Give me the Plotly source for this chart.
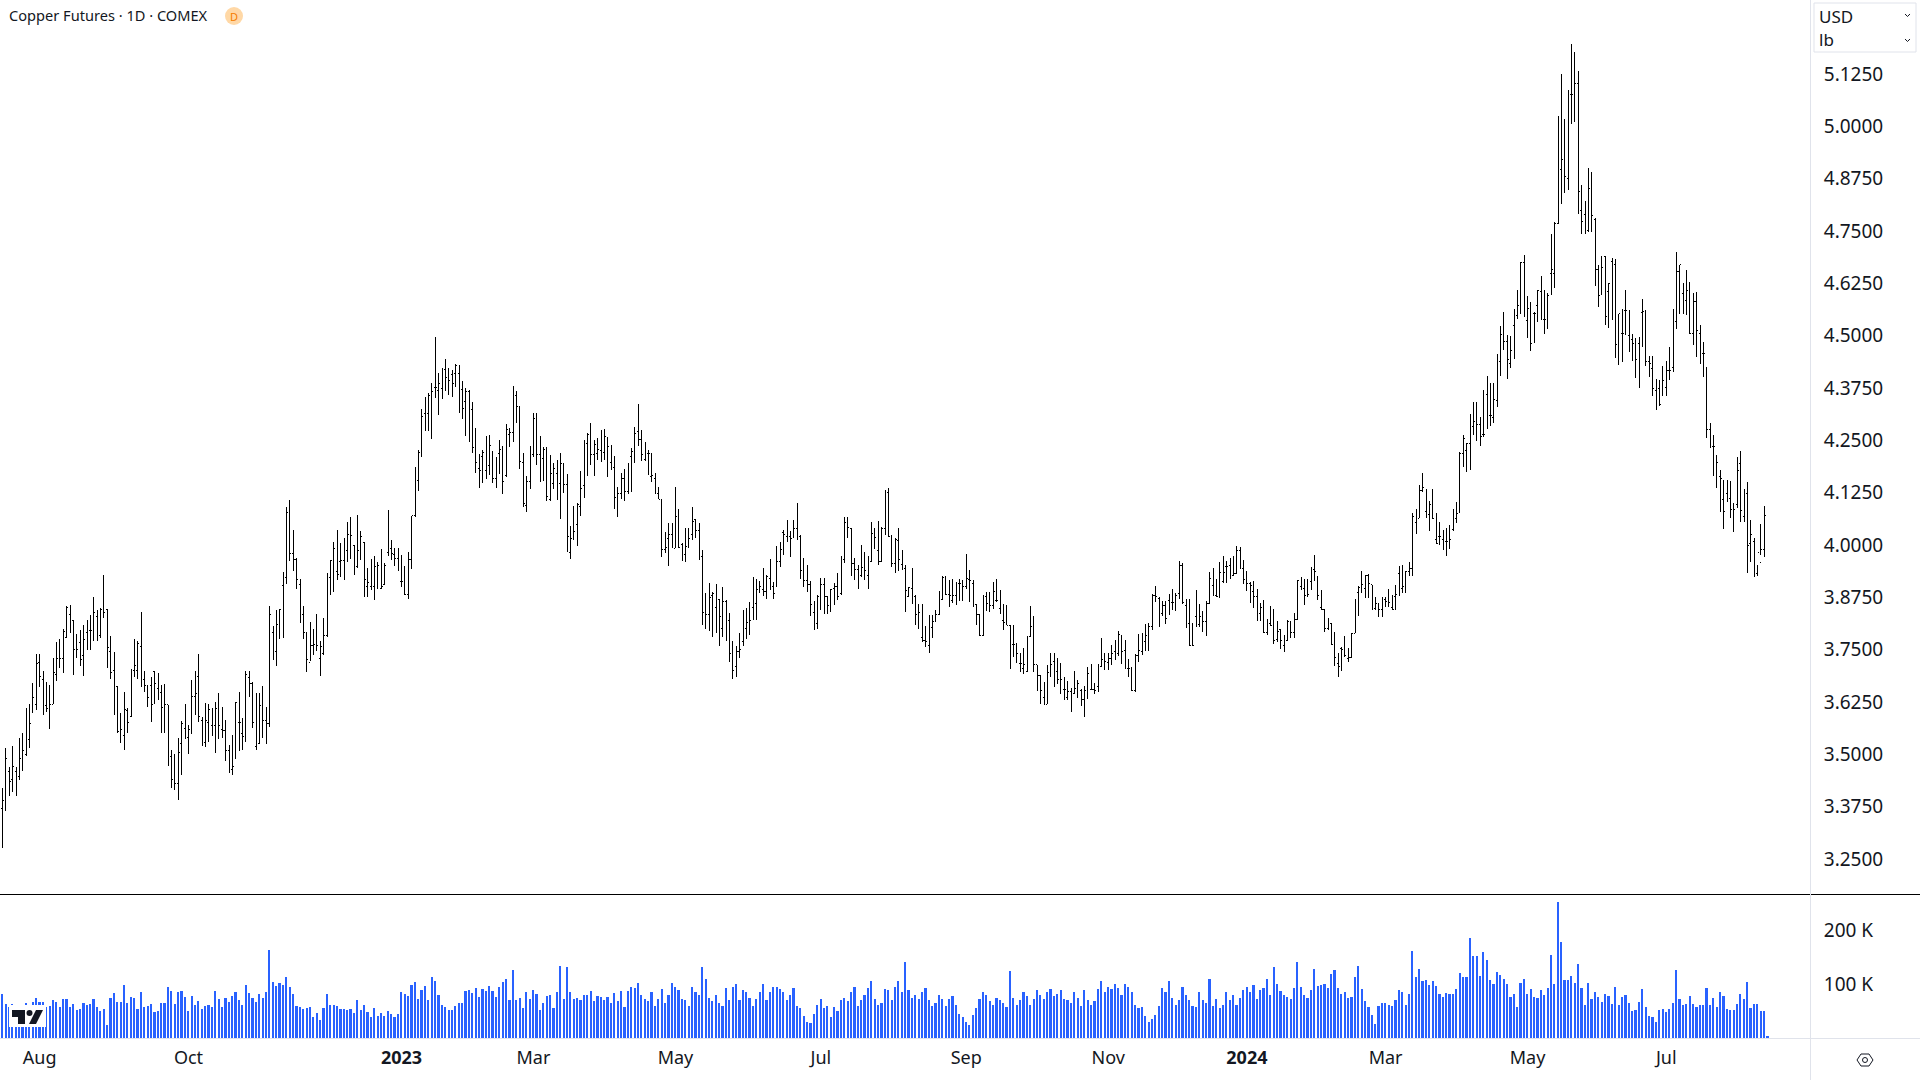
import plotly.graph_objects as go

W = 1920
H = 1080

# OHLC values (USD/lb), one row per 10 bars
highs = [
    3.42,3.515,3.47,3.52,3.47,3.54,3.55,3.61,3.62,3.67,
    3.74,3.74,3.70,3.674,3.666,3.73,3.768,3.776,3.80,3.855,
    3.856,3.82,3.787,3.797,3.81,3.82,3.833,3.875,3.845,3.85,
    3.928,3.847,3.783,3.745,3.664,3.60,3.648,3.61,3.704,3.776,
    3.77,3.84,3.70,3.665,3.686,3.70,3.694,3.666,3.668,3.618,
    3.51,3.50,3.538,3.58,3.62,3.57,3.678,3.70,3.74,3.59,
    3.622,3.62,3.61,3.624,3.646,3.614,3.582,3.523,3.546,3.626,
    3.65,3.586,3.70,3.70,3.674,3.646,3.646,3.664,3.614,3.854,
    3.807,3.845,3.847,3.936,4.09,4.107,4.036,3.968,3.918,3.855,
    3.79,3.817,3.80,3.835,3.77,3.825,3.934,3.964,4.008,4.036,
    4.004,4.016,4.054,4.066,4.0,4.071,4.034,4.008,3.946,3.966,
    3.973,3.96,3.99,3.956,4.083,4.013,3.992,3.992,3.976,3.95,
    3.984,4.07,4.187,4.227,4.326,4.353,4.364,4.386,4.496,4.41,
    4.422,4.444,4.424,4.418,4.432,4.43,4.392,4.374,4.37,4.341,
    4.279,4.217,4.227,4.26,4.263,4.225,4.211,4.252,4.236,4.289,
    4.279,4.38,4.368,4.332,4.219,4.165,4.237,4.315,4.315,4.26,
    4.235,4.235,4.215,4.195,4.203,4.22,4.197,4.17,4.045,4.093,
    4.1,4.177,4.25,4.267,4.292,4.251,4.255,4.275,4.277,4.259,
    4.239,4.213,4.138,4.171,4.182,4.195,4.231,4.283,4.337,4.275,
    4.247,4.227,4.219,4.171,4.139,4.111,4.032,4.052,4.053,4.138,
    4.085,4.004,4.04,4.04,4.092,4.062,4.052,3.988,3.885,3.91,
    3.888,3.906,3.87,3.90,3.868,3.837,3.77,3.76,3.79,3.845,3.85,
    3.865,3.924,3.918,3.914,3.946,3.928,3.966,3.912,3.998,4.008,
    4.037,4.06,4.034,4.06,4.1,4.024,3.968,3.952,3.914,3.866,
    3.88,3.922,3.922,3.876,3.896,3.91,3.934,3.973,4.066,4.066,
    4.04,3.968,3.952,4.0,3.984,3.973,4.054,4.04,4.057,4.044,
    4.131,4.137,4.024,4.016,4.04,3.989,3.952,3.899,3.944,3.88,
    3.86,3.86,3.806,3.833,3.833,3.844,3.89,3.926,3.926,3.916,
    3.918,3.912,3.918,3.916,3.978,3.94,3.916,3.86,3.833,3.88,
    3.888,3.888,3.911,3.92,3.892,3.859,3.856,3.809,3.809,3.765,
    3.741,3.753,3.782,3.854,3.83,3.713,3.688,3.672,3.713,3.741,
    3.741,3.731,3.719,3.684,3.675,3.657,3.699,3.677,3.657,3.663,
    3.708,3.717,3.67,3.717,3.777,3.741,3.741,3.761,3.773,3.794,
    3.785,3.773,3.729,3.709,3.739,3.787,3.789,3.811,3.813,3.884,
    3.902,3.876,3.867,3.867,3.884,3.894,3.886,3.962,3.956,3.87,
    3.87,3.813,3.892,3.859,3.842,3.867,3.936,3.944,3.92,3.96,
    3.974,3.963,3.968,3.974,3.998,3.996,3.964,3.939,3.912,3.914,
    3.894,3.861,3.869,3.823,3.854,3.847,3.818,3.799,3.785,3.821,
    3.819,3.837,3.917,3.924,3.919,3.918,3.948,3.976,3.924,3.893,
    3.846,3.825,3.813,3.792,3.741,3.756,3.783,3.753,3.789,3.871,
    3.902,3.938,3.928,3.931,3.905,3.877,3.861,3.877,3.877,3.894,
    3.881,3.905,3.95,3.952,3.938,3.959,4.076,4.085,4.143,4.171,
    4.135,4.104,4.135,4.076,4.056,4.036,4.04,4.048,4.085,4.102,
    4.223,4.263,4.243,4.312,4.342,4.342,4.307,4.37,4.404,4.386,
    4.388,4.456,4.522,4.557,4.502,4.5,4.563,4.608,4.677,4.692,
    4.595,4.581,4.557,4.61,4.642,4.609,4.601,4.743,4.772,5.025,
    5.125,5.017,5.087,5.197,5.177,5.132,4.86,4.822,4.9,4.89,
    4.78,4.67,4.691,4.691,4.625,4.685,4.682,4.553,4.563,4.609,
    4.561,4.505,4.494,4.498,4.587,4.561,4.452,4.452,4.397,4.394,
    4.428,4.44,4.472,4.564,4.699,4.67,4.625,4.657,4.629,
    4.601,4.605,4.525,4.486,4.426,4.291,4.263,4.214,4.18,4.156,
    4.156,4.152,4.1,4.211,4.225,4.134,4.15,4.06,4.016,3.953,
    4.05,4.093,
]
lows = [
    3.276,3.364,3.40,3.41,3.40,3.44,3.46,3.495,3.515,3.60,
    3.606,3.66,3.594,3.602,3.56,3.62,3.676,3.706,3.695,3.78,
    3.79,3.69,3.73,3.712,3.688,3.75,3.75,3.77,3.77,3.777,
    3.825,3.707,3.68,3.593,3.55,3.528,3.51,3.55,3.59,3.684,
    3.68,3.66,3.648,3.614,3.577,3.62,3.63,3.55,3.55,3.473,
    3.42,3.415,3.39,3.45,3.536,3.50,3.55,3.593,3.578,3.52,
    3.518,3.53,3.544,3.503,3.536,3.54,3.485,3.455,3.45,3.49,
    3.507,3.51,3.53,3.638,3.564,3.51,3.525,3.54,3.525,3.565,
    3.725,3.71,3.775,3.777,3.908,3.962,3.938,3.896,3.813,3.775,
    3.696,3.722,3.737,3.748,3.688,3.737,3.78,3.88,3.888,3.916,
    3.924,3.916,3.96,3.966,3.928,3.944,3.964,3.876,3.876,3.892,
    3.868,3.896,3.894,3.904,3.973,3.964,3.95,3.938,3.90,3.88,
    3.87,3.942,4.067,4.13,4.21,4.273,4.273,4.254,4.35,4.31,
    4.349,4.369,4.358,4.354,4.378,4.316,4.30,4.261,4.247,4.221,
    4.173,4.137,4.147,4.158,4.167,4.147,4.137,4.169,4.123,4.162,
    4.235,4.245,4.292,4.182,4.09,4.08,4.135,4.211,4.19,4.151,
    4.153,4.105,4.104,4.135,4.107,4.062,4.125,3.983,3.966,4.012,
    3.998,4.07,4.113,4.166,4.191,4.166,4.203,4.199,4.203,4.163,
    4.179,4.086,4.068,4.111,4.106,4.123,4.127,4.197,4.237,4.2,
    4.2,4.167,4.151,4.122,4.109,3.972,3.98,3.951,3.992,3.992,
    3.992,3.963,3.96,3.992,4.012,4.016,3.964,3.81,3.80,3.795,
    3.78,3.79,3.76,3.78,3.77,3.72,3.68,3.685,3.73,3.76,3.775,
    3.785,3.82,3.82,3.885,3.878,3.87,3.893,3.87,3.90,3.947,
    3.976,4.008,3.972,4.016,4.012,3.92,3.899,3.888,3.83,3.797,
    3.80,3.845,3.835,3.835,3.84,3.856,3.868,3.88,3.956,4.018,
    3.926,3.916,3.896,3.924,3.916,3.896,3.96,3.99,3.952,3.96,
    4.024,4.02,3.948,3.934,3.938,3.94,3.84,3.878,3.86,3.809,
    3.799,3.769,3.757,3.741,3.778,3.817,3.833,3.872,3.88,3.852,
    3.862,3.856,3.867,3.867,3.896,3.864,3.852,3.81,3.783,3.783,
    3.843,3.84,3.848,3.864,3.835,3.798,3.809,3.704,3.733,3.719,
    3.697,3.693,3.697,3.782,3.697,3.652,3.62,3.62,3.621,3.684,
    3.66,3.668,3.645,3.63,3.63,3.602,3.645,3.635,3.615,3.59,
    3.633,3.653,3.645,3.649,3.709,3.701,3.701,3.713,3.725,3.735,
    3.717,3.703,3.684,3.652,3.649,3.72,3.737,3.747,3.747,3.797,
    3.863,3.805,3.83,3.811,3.833,3.845,3.843,3.872,3.86,3.801,
    3.761,3.759,3.805,3.805,3.793,3.782,3.859,3.878,3.875,3.873,
    3.909,3.91,3.92,3.926,3.93,3.942,3.907,3.891,3.862,3.849,
    3.819,3.819,3.789,3.784,3.807,3.764,3.769,3.752,3.745,3.772,
    3.777,3.779,3.823,3.893,3.857,3.877,3.893,3.915,3.869,3.845,
    3.793,3.797,3.763,3.71,3.686,3.698,3.732,3.72,3.732,3.789,
    3.831,3.885,3.874,3.874,3.846,3.846,3.829,3.827,3.853,3.851,
    3.845,3.845,3.878,3.886,3.886,3.926,3.926,4.026,4.064,4.127,
    4.064,4.034,4.062,4.002,4.0,3.988,3.974,3.99,4.034,4.052,
    4.076,4.187,4.175,4.179,4.263,4.249,4.237,4.257,4.277,4.284,
    4.292,4.33,4.404,4.467,4.396,4.424,4.444,4.541,4.553,4.545,
    4.494,4.464,4.482,4.533,4.537,4.503,4.517,4.597,4.615,4.767,
    4.814,4.84,4.848,5.005,5.011,4.79,4.742,4.744,4.748,4.748,
    4.619,4.569,4.597,4.525,4.519,4.537,4.446,4.43,4.438,4.502,
    4.46,4.44,4.398,4.375,4.472,4.428,4.402,4.355,4.323,4.331,
    4.355,4.355,4.393,4.414,4.515,4.553,4.553,4.549,4.505,
    4.478,4.45,4.432,4.402,4.255,4.231,4.164,4.137,4.078,4.038,
    4.102,4.064,4.032,4.088,4.056,4.056,3.933,3.96,3.923,3.925,
    3.976,3.972,
]
opens = [
    3.37,3.38,3.46,3.44,3.46,3.447,3.467,3.50,3.536,3.618,
    3.618,3.72,3.678,3.616,3.62,3.62,3.69,3.73,3.73,3.78,
    3.835,3.82,3.76,3.767,3.735,3.79,3.797,3.797,3.83,3.785,
    3.843,3.845,3.745,3.70,3.662,3.55,3.546,3.605,3.59,3.70,
    3.70,3.757,3.678,3.664,3.664,3.698,3.658,3.648,3.586,3.618,
    3.496,3.44,3.43,3.527,3.562,3.54,3.55,3.638,3.687,3.58,
    3.528,3.576,3.57,3.57,3.586,3.56,3.558,3.51,3.465,3.54,
    3.577,3.55,3.55,3.683,3.67,3.518,3.527,3.616,3.582,3.573,
    3.79,3.745,3.823,3.904,3.922,4.06,3.98,3.966,3.906,3.835,
    3.79,3.72,3.76,3.762,3.73,3.74,3.785,3.922,3.94,3.936,
    3.96,3.964,3.986,4.024,4.0,3.948,3.986,4.005,3.90,3.90,
    3.90,3.934,3.896,3.906,3.981,3.992,3.978,3.967,3.912,3.912,
    3.883,3.966,4.07,4.155,4.22,4.315,4.315,4.353,4.376,4.37,
    4.374,4.42,4.40,4.408,4.41,4.41,4.372,4.344,4.366,4.324,
    4.233,4.183,4.211,4.178,4.191,4.215,4.159,4.219,4.215,4.166,
    4.263,4.268,4.356,4.322,4.197,4.095,4.151,4.217,4.302,4.217,
    4.207,4.229,4.109,4.147,4.17,4.147,4.145,4.145,3.983,4.016,
    4.05,4.093,4.143,4.243,4.217,4.217,4.219,4.225,4.221,4.233,
    4.197,4.186,4.113,4.123,4.158,4.127,4.211,4.223,4.27,4.252,
    4.205,4.218,4.163,4.159,4.123,4.10,3.99,4.016,4.024,3.992,
    4.068,4.002,3.978,3.996,4.026,4.06,4.034,3.972,3.84,3.835,
    3.88,3.85,3.87,3.80,3.865,3.82,3.74,3.71,3.745,3.77,3.80,
    3.80,3.85,3.86,3.90,3.895,3.89,3.92,3.90,3.96,3.96,
    4.03,4.02,4.02,4.05,4.04,4.02,3.94,3.915,3.906,3.84,
    3.813,3.876,3.906,3.876,3.855,3.896,3.90,3.884,3.966,4.055,
    4.04,3.956,3.942,3.928,3.946,3.928,3.96,4.018,3.988,3.96,
    4.04,4.125,4.021,3.956,4.012,3.954,3.944,3.878,3.896,3.878,
    3.839,3.78,3.771,3.761,3.802,3.833,3.833,3.871,3.922,3.882,
    3.867,3.88,3.907,3.88,3.90,3.918,3.907,3.859,3.833,3.783,
    3.876,3.859,3.856,3.867,3.848,3.82,3.843,3.809,3.763,3.741,
    3.717,3.705,3.697,3.781,3.822,3.715,3.688,3.636,3.62,3.696,
    3.723,3.699,3.679,3.655,3.637,3.65,3.645,3.653,3.653,3.63,
    3.653,3.655,3.655,3.663,3.711,3.721,3.719,3.729,3.745,3.741,
    3.781,3.747,3.705,3.701,3.653,3.737,3.745,3.769,3.763,3.805,
    3.88,3.872,3.836,3.856,3.867,3.862,3.856,3.884,3.95,3.856,
    3.813,3.761,3.829,3.811,3.811,3.817,3.86,3.904,3.88,3.928,
    3.913,3.948,3.952,3.928,3.931,3.988,3.944,3.926,3.907,3.889,
    3.877,3.837,3.837,3.791,3.813,3.821,3.775,3.799,3.759,3.772,
    3.79,3.79,3.823,3.902,3.897,3.88,3.912,3.942,3.924,3.85,
    3.847,3.801,3.813,3.763,3.717,3.753,3.737,3.729,3.732,3.789,
    3.886,3.899,3.897,3.928,3.905,3.849,3.846,3.845,3.869,3.865,
    3.851,3.878,3.932,3.897,3.934,3.936,3.944,4.053,4.064,4.13,
    4.08,4.072,4.064,4.014,4.02,4.014,4.008,4.018,4.036,4.064,
    4.199,4.219,4.225,4.243,4.284,4.308,4.287,4.263,4.36,4.31,
    4.305,4.346,4.438,4.494,4.486,4.434,4.525,4.549,4.57,4.674,
    4.537,4.5,4.553,4.573,4.605,4.539,4.581,4.649,4.649,4.767,
    4.896,4.918,4.876,5.075,5.104,5.103,4.80,4.79,4.752,4.872,
    4.778,4.657,4.621,4.689,4.605,4.677,4.67,4.446,4.505,4.561,
    4.50,4.49,4.454,4.482,4.555,4.557,4.438,4.422,4.369,4.375,
    4.377,4.377,4.417,4.425,4.533,4.653,4.60,4.583,4.597,
    4.505,4.581,4.505,4.458,4.41,4.277,4.235,4.197,4.164,4.109,
    4.124,4.112,4.093,4.096,4.195,4.068,4.122,4.003,4.008,3.931,
    3.958,3.99,
]
closes = [
    3.39,3.49,3.435,3.47,3.44,3.49,3.51,3.535,3.574,3.636,
    3.717,3.686,3.662,3.61,3.62,3.695,3.73,3.73,3.793,3.85,
    3.813,3.75,3.75,3.727,3.775,3.813,3.797,3.84,3.79,3.845,
    3.84,3.756,3.695,3.666,3.554,3.56,3.607,3.577,3.672,3.713,
    3.765,3.70,3.664,3.635,3.62,3.67,3.67,3.613,3.618,3.488,
    3.44,3.43,3.505,3.573,3.558,3.56,3.638,3.646,3.59,3.53,
    3.582,3.608,3.57,3.61,3.57,3.558,3.51,3.518,3.472,3.625,
    3.577,3.542,3.692,3.67,3.576,3.527,3.616,3.582,3.573,3.833,
    3.748,3.81,3.847,3.922,4.078,3.98,3.966,3.918,3.835,3.79,
    3.726,3.76,3.762,3.76,3.757,3.785,3.88,3.964,3.992,3.93,
    3.964,4.0,4.024,4.022,3.942,3.986,4.02,3.918,3.91,3.926,
    3.948,3.952,3.90,3.952,3.981,3.98,3.967,3.978,3.912,3.883,
    3.966,4.07,4.169,4.22,4.307,4.338,4.356,4.366,4.376,4.386,
    4.394,4.40,4.392,4.386,4.428,4.365,4.326,4.366,4.252,4.233,
    4.197,4.178,4.221,4.18,4.238,4.159,4.199,4.229,4.151,4.276,
    4.268,4.367,4.332,4.20,4.10,4.151,4.231,4.302,4.217,4.207,
    4.229,4.116,4.17,4.182,4.147,4.195,4.145,4.02,4.016,4.033,
    4.097,4.135,4.183,4.265,4.217,4.239,4.227,4.229,4.259,4.235,
    4.197,4.113,4.123,4.158,4.127,4.159,4.223,4.267,4.252,4.217,
    4.233,4.218,4.166,4.122,4.109,3.99,3.994,4.024,4.028,4.068,
    3.994,3.988,3.996,4.016,4.056,4.034,3.984,3.84,3.835,3.875,
    3.885,3.87,3.83,3.865,3.83,3.74,3.70,3.745,3.75,3.80,3.815,
    3.82,3.86,3.895,3.90,3.89,3.925,3.905,3.885,3.96,3.99,
    4.024,4.02,4.016,4.04,4.02,3.94,3.915,3.906,3.857,3.813,
    3.876,3.906,3.876,3.855,3.894,3.90,3.877,3.965,4.055,4.043,
    3.956,3.942,3.928,3.946,3.94,3.96,4.028,4.018,3.96,4.04,
    4.12,4.02,3.956,4.013,3.966,3.944,3.892,3.899,3.867,3.833,
    3.839,3.771,3.769,3.802,3.818,3.833,3.871,3.922,3.882,3.88,
    3.88,3.907,3.907,3.90,3.92,3.916,3.856,3.833,3.783,3.876,
    3.86,3.856,3.888,3.867,3.848,3.816,3.809,3.758,3.763,3.741,
    3.717,3.715,3.781,3.806,3.715,3.688,3.652,3.62,3.696,3.715,
    3.699,3.68,3.679,3.655,3.65,3.657,3.657,3.669,3.63,3.652,
    3.693,3.655,3.653,3.711,3.727,3.721,3.729,3.741,3.755,3.786,
    3.745,3.704,3.705,3.652,3.737,3.749,3.782,3.785,3.806,3.88,
    3.878,3.833,3.856,3.825,3.88,3.862,3.88,3.95,3.862,3.856,
    3.761,3.761,3.859,3.829,3.817,3.86,3.92,3.918,3.876,3.935,
    3.934,3.948,3.935,3.931,3.988,3.952,3.918,3.907,3.903,3.877,
    3.835,3.851,3.791,3.815,3.807,3.772,3.793,3.772,3.773,3.817,
    3.79,3.823,3.915,3.916,3.879,3.882,3.942,3.936,3.88,3.847,
    3.801,3.813,3.763,3.732,3.71,3.751,3.737,3.732,3.789,3.849,
    3.899,3.906,3.928,3.909,3.849,3.861,3.845,3.854,3.865,3.862,
    3.846,3.882,3.932,3.90,3.936,3.944,4.068,4.06,4.13,4.138,
    4.072,4.098,4.064,4.004,4.02,4.01,4.008,4.014,4.053,4.076,
    4.219,4.255,4.243,4.301,4.295,4.287,4.26,4.265,4.386,4.31,
    4.348,4.446,4.504,4.486,4.442,4.464,4.549,4.571,4.675,4.561,
    4.565,4.482,4.553,4.609,4.601,4.539,4.597,4.658,4.767,4.896,
    4.921,4.88,5.047,5.075,5.103,4.844,4.772,4.748,4.852,4.788,
    4.657,4.597,4.663,4.545,4.625,4.669,4.48,4.553,4.505,4.561,
    4.482,4.482,4.444,4.49,4.557,4.438,4.434,4.375,4.369,4.336,
    4.392,4.417,4.418,4.533,4.653,4.669,4.58,4.609,4.505,
    4.581,4.513,4.449,4.458,4.277,4.261,4.235,4.197,4.16,4.08,
    4.117,4.084,4.084,4.177,4.082,4.101,4.0,4.026,3.953,3.982,
    3.99,4.07,
]
# volume in thousands of contracts
volumes = [
    81,63,57,63,40,61,58,65,59,67,74,67,67,57,59,70,67,58,72,72,
    57,63,52,54,65,61,63,72,57,50,54,24,74,83,67,67,98,65,76,74,
    54,85,57,59,63,48,50,65,65,94,87,63,85,87,76,50,78,61,69,54,
    59,61,57,87,72,57,74,67,78,85,70,61,98,83,74,67,81,74,85,163,
    104,96,102,98,113,94,81,59,57,54,56,57,39,46,33,56,81,61,61,59,
    54,54,52,54,46,70,52,61,48,39,56,41,46,41,50,44,39,44,85,81,
    78,98,104,72,89,96,70,113,106,80,61,57,52,52,59,65,65,87,89,83,
    93,76,91,87,96,87,76,94,104,109,70,126,70,74,56,85,72,89,81,52,
    65,78,80,56,85,133,72,131,85,72,74,70,80,80,87,69,78,76,70,76,
    65,83,69,87,57,87,94,93,102,
    80,72,68,85,60,72,90,65,80,102,
    95,88,72,70,60,95,85,80,132,110,
    75,68,80,65,60,92,70,95,100,70,
    88,85,75,60,72,85,100,70,85,95,
    95,90,85,70,80,92,60,55,40,30,
    28,45,62,72,55,60,38,58,50,70,
    75,68,85,95,60,70,80,92,105,72,
    62,65,90,88,70,95,105,85,140,88,
    75,80,72,85,92,70,60,65,80,72,
    60,72,78,62,45,38,30,25,42,55,
    72,85,80,68,62,75,70,65,58,125,
    75,62,70,85,78,62,72,88,80,72,
    85,90,78,82,88,72,70,65,85,75,
    60,88,70,62,68,90,105,85,95,90,
    100,92,80,100,95,85,62,55,58,40,
    30,35,42,60,92,85,105,75,62,70,
    95,80,70,60,58,85,70,65,110,60,
    72,55,62,85,70,80,62,75,88,95,
    85,98,72,88,92,110,80,132,100,
    87,80,76,72,93,141,94,80,74,89,128,96,98,100,93,119,126,93,81,85,
    74,76,113,133,91,69,57,43,26,59,65,65,61,59,70,89,85,61,81,161,
    113,128,106,107,98,106,96,81,76,83,81,81,91,120,113,113,185,152,152,115,
    159,144,107,100,122,117,109,100,76,81,57,102,109,81,91,76,74,89,80,93,
    154,100,252,178,107,107,115,102,137,93,61,102,72,85,76,67,81,78,63,94,
    61,76,80,65,50,52,67,91,57,41,39,30,52,54,48,54,65,126,72,61,
    63,78,63,57,61,61,93,61,74,57,85,78,54,52,52,63,81,72,104,56,
    63,63,50,50,2,
]

price_ticks = [3.25, 3.375, 3.5, 3.625, 3.75, 3.875, 4.0, 4.125, 4.25, 4.375, 4.5, 4.625, 4.75, 4.875, 5.0, 5.125]
price_labels = ['%.4f' % p for p in price_ticks]
vol_ticks = [100, 200]
vol_labels = ['100 K', '200 K']
time_ticks = [11, 55, 118, 157, 199, 242, 285, 327, 368, 409, 451, 492]
time_labels = ['Aug', 'Oct', '<b>2023</b>', 'Mar', 'May', 'Jul', 'Sep', 'Nov', '<b>2024</b>', 'Mar', 'May', 'Jul']

FONT = 'Noto Sans'
TEXT = '#131722'
GRID = '#E0E3EB'
AXIS_RIGHT = 1810
PANE_SPLIT = 894
TIME_LINE = 1038


def px(x):
    return x / W


def py(y):
    return 1 - y / H


def line_shape(x0, y0, x1, y1, color, width=1):
    return dict(type='line', xref='paper', yref='paper', x0=px(x0), y0=py(y0), x1=px(x1), y1=py(y1),
                line=dict(color=color, width=width), layer='above')


def path_shape(points, fill=None, color=None, width=1, close=True):
    d = 'M ' + ' L '.join('%.5f,%.5f' % (px(a), py(b)) for a, b in points) + (' Z' if close else '')
    return dict(type='path', xref='paper', yref='paper', path=d, fillcolor=fill or 'rgba(0,0,0,0)',
                line=dict(color=color or 'rgba(0,0,0,0)', width=width), layer='above')


def circle_shape(cx, cy, r, fill=None, color=None, width=1):
    return dict(type='circle', xref='paper', yref='paper', x0=px(cx - r), x1=px(cx + r), y0=py(cy - r), y1=py(cy + r),
                fillcolor=fill or 'rgba(0,0,0,0)', line=dict(color=color or 'rgba(0,0,0,0)', width=width), layer='above')


n = len(closes)
step = (1764.3 - 2.5) / (n - 1)
x_range = [-2.5 / step, (AXIS_RIGHT - 2.5) / step]

fig = go.Figure()
fig.add_trace(go.Ohlc(
    x=list(range(n)), open=opens, high=highs, low=lows, close=closes,
    increasing=dict(line=dict(color='#000000', width=1)),
    decreasing=dict(line=dict(color='#000000', width=1)),
    tickwidth=0.38, xaxis='x', yaxis='y', hoverinfo='skip', showlegend=False,
))
fig.add_trace(go.Bar(
    x=list(range(len(volumes))), y=volumes, width=0.5,
    marker=dict(color='#2962FF', line=dict(width=0)),
    xaxis='x2', yaxis='y2', hoverinfo='skip', showlegend=False,
))

shapes = [
    line_shape(0, PANE_SPLIT + 0.5, W, PANE_SPLIT + 0.5, '#000000'),
    line_shape(0, TIME_LINE + 0.5, W, TIME_LINE + 0.5, GRID),
    line_shape(AXIS_RIGHT + 0.5, 0, AXIS_RIGHT + 0.5, H, GRID),
    # unit selector box
    path_shape([(1814, 3), (1916, 3), (1916, 52), (1814, 52)], fill='#FFFFFF', color=GRID),
    path_shape([(1905, 14), (1907.5, 16.5), (1910, 14)], color='#131722', close=False),
    path_shape([(1905, 39), (1907.5, 41.5), (1910, 39)], color='#131722', close=False),
    # interval badge
    circle_shape(234, 16, 9, fill='#FFD8A6'),
    # logo
    path_shape([(9, 1005), (46, 1005), (46, 1027), (9, 1027)], fill='#FFFFFF'),
    path_shape([(12, 1010), (25, 1010), (25, 1024), (18, 1024), (18, 1017), (12, 1017)], fill=TEXT),
    circle_shape(29.5, 1013, 3, fill=TEXT),
    path_shape([(36, 1010), (43, 1010), (36, 1024), (29, 1024)], fill=TEXT),
    # settings icon
    path_shape([(1857, 1060), (1861, 1054), (1869, 1054), (1873, 1060), (1869, 1066), (1861, 1066)], color=TEXT),
    circle_shape(1865, 1060, 2.5, color=TEXT),
]

annotations = [
    dict(text='Copper Futures · 1D · COMEX', x=px(8), y=py(15), xanchor='left', yanchor='middle',
         font=dict(family=FONT, size=14.6, color=TEXT)),
    dict(text='D', x=px(234), y=py(16), xanchor='center', yanchor='middle',
         font=dict(family=FONT, size=11, color='#F57C00')),
    dict(text='USD', x=px(1818), y=py(16), xanchor='left', yanchor='middle',
         font=dict(family=FONT, size=17, color=TEXT)),
    dict(text='lb', x=px(1818), y=py(40), xanchor='left', yanchor='middle',
         font=dict(family=FONT, size=17, color=TEXT)),
]
for a in annotations:
    a.update(xref='paper', yref='paper', showarrow=False, xshift=0, yshift=0, borderpad=0)

fig.update_layout(
    width=W, height=H, margin=dict(l=0, r=0, t=0, b=0), paper_bgcolor='#FFFFFF', plot_bgcolor='#FFFFFF',
    showlegend=False, hovermode=False, bargap=0, dragmode=False,
    font=dict(family=FONT, size=18, color=TEXT),
    shapes=shapes, annotations=annotations,
    xaxis=dict(domain=[0, px(AXIS_RIGHT)], range=x_range, anchor='y', showticklabels=False, showgrid=False,
               zeroline=False, showline=False, ticks='', rangeslider=dict(visible=False)),
    xaxis2=dict(domain=[0, px(AXIS_RIGHT)], range=x_range, anchor='y2', matches='x', tickmode='array',
                tickvals=time_ticks, ticktext=time_labels, showgrid=False, zeroline=False, showline=False,
                ticks='outside', ticklen=3, tickcolor='rgba(0,0,0,0)', tickfont=dict(family=FONT, size=18, color=TEXT)),
    yaxis=dict(domain=[py(PANE_SPLIT), 1], range=[5.125 - (PANE_SPLIT - 74) / 418.7, 5.125 + 74 / 418.7],
               side='right', anchor='x', tickmode='array', tickvals=price_ticks, ticktext=price_labels,
               showgrid=False, zeroline=False, showline=False, ticks='outside', ticklen=9,
               tickcolor='rgba(0,0,0,0)', tickfont=dict(family=FONT, size=19, color=TEXT)),
    yaxis2=dict(domain=[py(TIME_LINE), py(PANE_SPLIT + 1)], range=[0, (TIME_LINE - PANE_SPLIT - 1) / 0.54],
                side='right', anchor='x2', tickmode='array', tickvals=vol_ticks, ticktext=vol_labels,
                showgrid=False, zeroline=False, showline=False, ticks='outside', ticklen=9,
                tickcolor='rgba(0,0,0,0)', tickfont=dict(family=FONT, size=19, color=TEXT)),
)

# page without margin, crisp 1px OHLC strokes
fig.write_html("out.html", config=dict(displayModeBar=False),
               post_script="document.body.style.margin='0';document.body.style.overflow='hidden';"
                           "document.querySelectorAll('.ohlclayer path').forEach(function(p){p.style.shapeRendering='crispEdges';});")
